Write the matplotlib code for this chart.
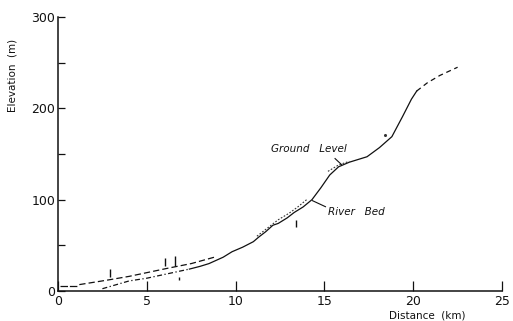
import matplotlib
matplotlib.use("Agg")
import matplotlib.pyplot as plt

# ---- data (km, m) ----
flat_x = [0.1, 1.1]
flat_y = [5.0, 5.0]

ground_dash_x = [1.2, 2.8, 4.0, 6.2, 7.5, 8.8]
ground_dash_y = [7.0, 12.0, 16.0, 25.0, 30.0, 37.0]

bed_dash_x = [2.5, 4.0, 5.0, 6.2, 7.4]
bed_dash_y = [2.5, 11.0, 14.0, 19.0, 24.0]

bed_x = [7.4, 8.0, 8.5, 9.3, 9.8, 10.4, 11.0, 11.3, 11.7, 12.1, 12.4, 12.9,
         13.3, 13.8, 14.3, 14.8, 15.3, 15.8, 16.4, 17.4, 18.1, 18.8, 19.4,
         19.9, 20.2]
bed_y = [24, 27, 30, 37, 43, 48, 54, 59, 65, 72, 74, 80,
         86, 92, 100, 113, 127, 136, 141, 147, 157, 169, 191,
         210, 219]

upper_dash_x = [20.2, 20.8, 21.5, 22.5]
upper_dash_y = [219, 228, 236, 245]

ground_dot1_x = [11.2, 11.8, 12.4, 13.0, 13.5, 14.0]
ground_dot1_y = [60, 69, 78, 85, 92, 100]
ground_dot2_x = [15.2, 15.8, 16.4]
ground_dot2_y = [131, 138, 142]

marker_x = [2.9, 6.0, 6.6, 6.8, 13.4]
marker_lo = [15, 27, 27, 12, 70]
marker_hi = [24, 36, 38, 15, 78]

dot_x = [18.4]
dot_y = [171]

x_ticks = [0, 5, 10, 15, 20, 25]
y_ticks = [0, 50, 100, 150, 200, 250, 300]
y_ticklabels = ["0", "", "100", "", "200", "", "300"]

# ---- figure ----
fig = plt.figure(figsize=(5.13, 3.21), dpi=100)
ax = fig.add_axes([58/513, 30/321, 444/513, 274/321])
ax.set_xlim(0, 25)
ax.set_ylim(0, 300)

col = "#111111"
ax.plot(flat_x, flat_y, color=col, lw=0.9, linestyle=(0, (6, 1.5)))
ax.plot(ground_dash_x, ground_dash_y, color=col, lw=0.9, linestyle=(0, (5, 2.5)))
ax.plot(bed_dash_x, bed_dash_y, color=col, lw=0.9, linestyle=(0, (4, 2, 1, 2)))
ax.plot(bed_x, bed_y, color=col, lw=0.9)
ax.plot(upper_dash_x, upper_dash_y, color=col, lw=0.9, linestyle=(0, (4, 3)))
ax.plot(ground_dot1_x, ground_dot1_y, color="#333333", lw=0.8, linestyle=(0, (1.5, 1.5)))
ax.plot(ground_dot2_x, ground_dot2_y, color="#333333", lw=0.8, linestyle=(0, (1.5, 1.5)))
ax.vlines(marker_x, marker_lo, marker_hi, color=col, lw=1.0)
ax.plot(dot_x, dot_y, marker="o", ms=1.2, color="#333333", lw=0)

for s in ["top", "right"]:
    ax.spines[s].set_visible(False)
for s in ["left", "bottom"]:
    ax.spines[s].set_linewidth(1.1)
    ax.spines[s].set_color(col)

ax.set_xticks(x_ticks)
ax.set_yticks(y_ticks)
ax.set_yticklabels(y_ticklabels)
ax.tick_params(axis="x", direction="in", length=7, width=0.9, pad=3,
               labelsize=9, colors=col)
ax.tick_params(axis="y", direction="in", length=5, width=0.9, pad=2,
               labelsize=9, colors=col)

fig.text(13/513, 1 - 75/321, "Elevation  (m)", rotation=90, ha="center",
         va="center", fontsize=7.5, color=col)
fig.text(427/513, 1 - 315/321, "Distance  (km)", ha="center", va="center",
         fontsize=7.5, color=col)

ax.text(12.0, 155, "Ground   Level", fontsize=7.5, style="italic",
        ha="left", va="center", color=col)
ax.plot([15.6, 15.96], [145, 138.5], color=col, lw=0.8)
ax.text(15.2, 87, "River   Bed", fontsize=7.5, style="italic",
        ha="left", va="center", color=col)
ax.plot([14.33, 15.06], [98.9, 92.3], color=col, lw=0.8)

fig.savefig("out.png", dpi=100)
